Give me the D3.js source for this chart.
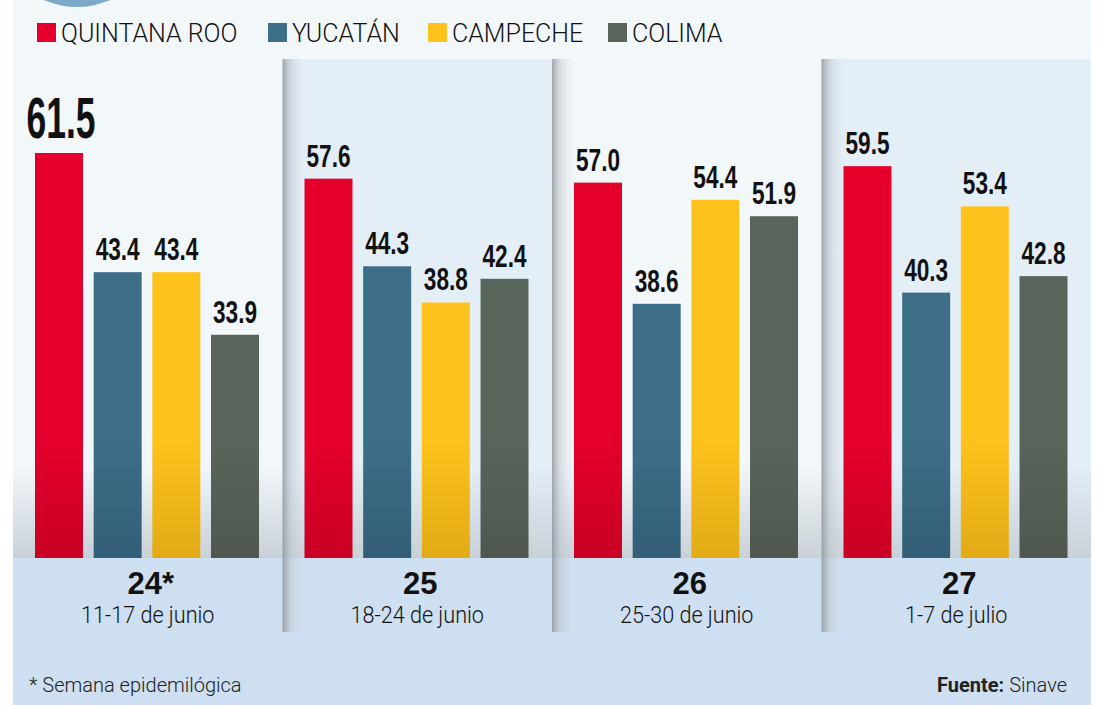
<!DOCTYPE html>
<html>
<head>
<meta charset="utf-8">
<script src="https://cdn.jsdelivr.net/npm/d3@7"></script>
<style>
  body { margin: 0; background: #fff; }
  svg { display: block; }
</style>
</head>
<body>
<div id="chart"></div>
<script>
// data
const states = ['QUINTANA ROO', 'YUCATÁN', 'CAMPECHE', 'COLIMA']
const weeks = ['24*', '25', '26', '27']
const weekRanges = ['11-17 de junio', '18-24 de junio', '25-30 de junio', '1-7 de julio']
const quintanaRoo = [61.5, 57.6, 57.0, 59.5]
const yucatan = [43.4, 44.3, 38.6, 40.3]
const campeche = [43.4, 38.8, 54.4, 53.4]
const colima = [33.9, 42.4, 51.9, 42.8]

const seriesValues = [quintanaRoo, yucatan, campeche, colima]
const colors = ['#e4002b', '#3d6e88', '#fdc21c', '#59645a']
const darkColors = ['#c90024', '#325e76', '#e2ab16', '#4e584f']

const width = 1099
const height = 705
const left = 13
const right = 1091
const baseline = 558

const svg = d3
  .select('#chart')
  .append('svg')
  .attr('width', width)
  .attr('height', height)

const defs = svg.append('defs')

// gradients for bars (darker towards the bottom)
colors.forEach((c, i) => {
  const g = defs.append('linearGradient')
    .attr('id', 'bar' + i)
    .attr('gradientUnits', 'userSpaceOnUse')
    .attr('x1', 0).attr('x2', 0)
    .attr('y1', 440).attr('y2', baseline)
  g.append('stop').attr('offset', 0).attr('stop-color', c)
  g.append('stop').attr('offset', 1).attr('stop-color', darkColors[i])
})

// grey fog at the bottom of the plot area
const fog = defs.append('linearGradient')
  .attr('id', 'fog')
  .attr('x1', 0).attr('y1', 0).attr('x2', 0).attr('y2', 1)
fog.append('stop').attr('offset', 0).attr('stop-color', '#c9d1d8').attr('stop-opacity', 0)
fog.append('stop').attr('offset', 1).attr('stop-color', '#c9d1d8').attr('stop-opacity', 1)

// shadow at the left edge of each panel
const shade = defs.append('linearGradient')
  .attr('id', 'shade')
  .attr('x1', 0).attr('y1', 0).attr('x2', 1).attr('y2', 0)
shade.append('stop').attr('offset', 0).attr('stop-color', '#8f979e').attr('stop-opacity', 0.85)
shade.append('stop').attr('offset', 0.35).attr('stop-color', '#b9c1c8').attr('stop-opacity', 0.45)
shade.append('stop').attr('offset', 1).attr('stop-color', '#dfe6ec').attr('stop-opacity', 0)

// scales
const x0 = d3.scaleBand()
  .domain(weeks)
  .range([left, right])

const x1 = d3.scaleBand()
  .domain(states)
  .range([22, 246])
  .paddingInner(0.182)

const y = d3.scaleLinear()
  .domain([0, 61.5])
  .range([baseline, 153])

// page background
svg.append('rect')
  .attr('x', left).attr('y', 0)
  .attr('width', right - left).attr('height', height)
  .attr('fill', '#f2f7fa')

// circle peeking out at the top
svg.append('circle')
  .attr('cx', 77).attr('cy', -74).attr('r', 81)
  .attr('fill', '#7ca8c8')

// alternating panels
svg.selectAll('.panel')
  .data(weeks)
  .enter()
  .append('rect')
  .attr('class', 'panel')
  .attr('x', d => x0(d))
  .attr('y', 59)
  .attr('width', x0.bandwidth())
  .attr('height', baseline - 59)
  .attr('fill', (d, i) => i % 2 ? '#e4eef7' : '#f2f7fa')

svg.append('rect')
  .attr('x', left).attr('y', 465)
  .attr('width', right - left).attr('height', baseline - 465)
  .attr('fill', 'url(#fog)')

// bottom band
svg.append('rect')
  .attr('x', left).attr('y', baseline)
  .attr('width', right - left).attr('height', height - baseline)
  .attr('fill', '#cddff0')

// panel shadows
svg.selectAll('.shade')
  .data(weeks.slice(1))
  .enter()
  .append('rect')
  .attr('class', 'shade')
  .attr('x', d => x0(d))
  .attr('y', 59)
  .attr('width', 24)
  .attr('height', 632 - 59)
  .attr('fill', 'url(#shade)')

// legend
const legend = svg.append('g')
const legendX = [37, 268, 428, 608]
states.forEach((s, i) => {
  legend.append('rect')
    .attr('x', legendX[i]).attr('y', 23)
    .attr('width', 19).attr('height', 19)
    .attr('fill', colors[i])
  legend.append('text')
    .attr('x', legendX[i] + 24).attr('y', 42)
    .attr('font-family', 'Roboto, sans-serif')
    .attr('font-size', 25)
    .attr('font-weight', 300)
    .attr('fill', '#111')
    .text(s)
})

// bars
const groups = svg.selectAll('.week')
  .data(weeks)
  .enter()
  .append('g')
  .attr('class', 'week')
  .attr('transform', d => `translate(${x0(d)},0)`)

const cells = (d, wi) => states.map((s, si) => ({ state: s, si, wi, value: seriesValues[si][wi] }))
const isMax = d => d.wi === 0 && d.si === 0

groups.selectAll('rect')
  .data(cells)
  .enter()
  .append('rect')
  .attr('x', d => x1(d.state))
  .attr('y', d => y(d.value))
  .attr('width', x1.bandwidth())
  .attr('height', d => baseline - y(d.value))
  .attr('fill', d => `url(#bar${d.si})`)

groups.selectAll('.val')
  .data(cells)
  .enter()
  .append('text')
  .attr('class', 'val')
  .attr('x', d => x1(d.state) + x1.bandwidth() / 2 + (isMax(d) ? 2 : 0))
  .attr('y', d => isMax(d) ? y(d.value) - 15 : y(d.value) - 12)
  .attr('text-anchor', 'middle')
  .attr('font-family', '"Liberation Sans", Arial, sans-serif')
  .attr('font-weight', 700)
  .attr('font-size', d => isMax(d) ? 58 : 31)
  .attr('textLength', d => isMax(d) ? 69 : 44)
  .attr('lengthAdjust', 'spacingAndGlyphs')
  .attr('fill', '#111')
  .text(d => d.value.toFixed(1))

// week labels
groups.append('text')
  .attr('x', x0.bandwidth() / 2 + 3)
  .attr('y', 594)
  .attr('text-anchor', 'middle')
  .attr('font-family', '"Liberation Sans", Arial, sans-serif')
  .attr('font-weight', 700)
  .attr('font-size', 31)
  .attr('fill', '#111')
  .text(d => d)

groups.append('text')
  .attr('transform', `translate(${x0.bandwidth() / 2},623) scale(0.9,1)`)
  .attr('text-anchor', 'middle')
  .attr('font-family', 'Roboto, sans-serif')
  .attr('font-size', 24)
  .attr('font-weight', 300)
  .attr('fill', '#111')
  .text((d, i) => weekRanges[i])

// footer
svg.append('text')
  .attr('x', 29).attr('y', 692)
  .attr('font-family', 'Roboto, sans-serif')
  .attr('font-weight', 300)
  .attr('font-size', 20)
  .attr('fill', '#222')
  .text('* Semana epidemilógica')

const source = svg.append('text')
  .attr('x', 1067).attr('y', 692)
  .attr('text-anchor', 'end')
  .attr('font-family', 'Roboto, sans-serif')
  .attr('font-size', 20)
  .attr('fill', '#222')
source.append('tspan').attr('font-weight', 700).text('Fuente: ')
source.append('tspan').attr('font-weight', 300).text('Sinave')
</script>
</body>
</html>
